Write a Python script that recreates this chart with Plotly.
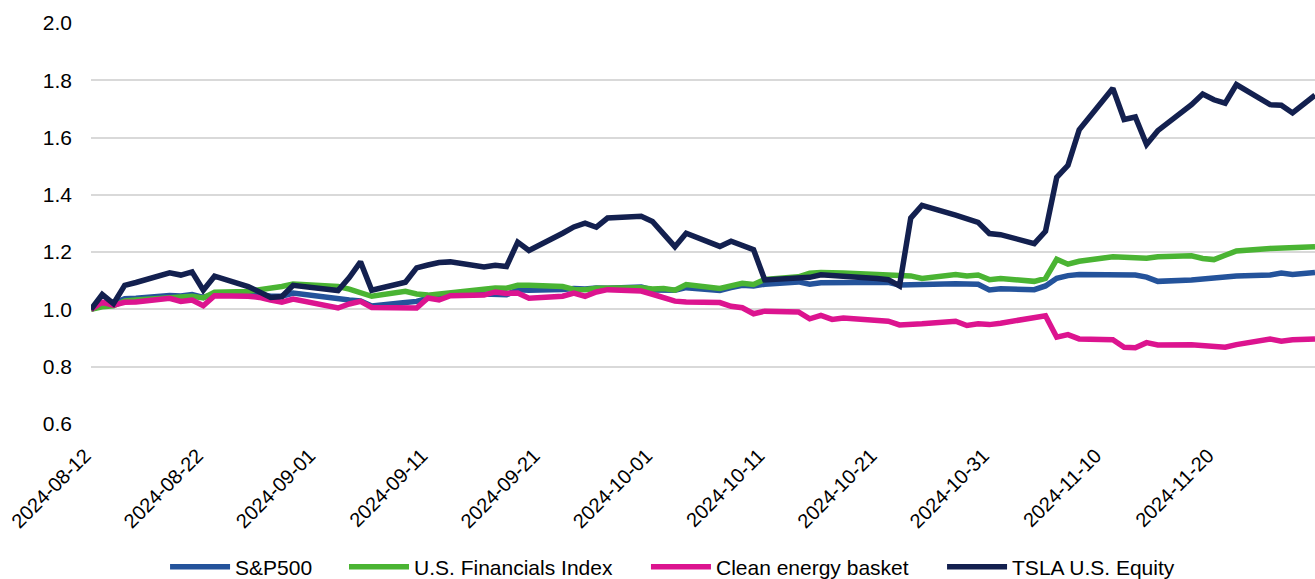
import plotly.graph_objects as go

dates = [
    "2024-08-12", "2024-08-13", "2024-08-14", "2024-08-15", "2024-08-16",
    "2024-08-19", "2024-08-20", "2024-08-21", "2024-08-22", "2024-08-23",
    "2024-08-26", "2024-08-27", "2024-08-28", "2024-08-29", "2024-08-30",
    "2024-09-03", "2024-09-04", "2024-09-05", "2024-09-06",
    "2024-09-09", "2024-09-10", "2024-09-11", "2024-09-12", "2024-09-13",
    "2024-09-16", "2024-09-17", "2024-09-18", "2024-09-19", "2024-09-20",
    "2024-09-23", "2024-09-24", "2024-09-25", "2024-09-26", "2024-09-27",
    "2024-09-30", "2024-10-01", "2024-10-02", "2024-10-03", "2024-10-04",
    "2024-10-07", "2024-10-08", "2024-10-09", "2024-10-10", "2024-10-11",
    "2024-10-14", "2024-10-15", "2024-10-16", "2024-10-17", "2024-10-18",
    "2024-10-21", "2024-10-22", "2024-10-23", "2024-10-24", "2024-10-25",
    "2024-10-28", "2024-10-29", "2024-10-30", "2024-10-31", "2024-11-01",
    "2024-11-04", "2024-11-05", "2024-11-06", "2024-11-07", "2024-11-08",
    "2024-11-11", "2024-11-12", "2024-11-13", "2024-11-14", "2024-11-15",
    "2024-11-18", "2024-11-19", "2024-11-20", "2024-11-21", "2024-11-22",
    "2024-11-25", "2024-11-26", "2024-11-27", "2024-11-29",
]

sp500 = [
    1.000, 1.017, 1.021, 1.037, 1.039,
    1.049, 1.047, 1.052, 1.042, 1.054,
    1.051, 1.053, 1.046, 1.046, 1.057,
    1.035, 1.033, 1.030, 1.012,
    1.024, 1.028, 1.039, 1.047, 1.053,
    1.054, 1.054, 1.051, 1.069, 1.067,
    1.070, 1.073, 1.071, 1.075, 1.074,
    1.078, 1.068, 1.068, 1.067, 1.076,
    1.066, 1.076, 1.084, 1.082, 1.088,
    1.096, 1.088, 1.093, 1.093, 1.097,
    1.095, 1.095, 1.085, 1.087, 1.087,
    1.090, 1.091, 1.088, 1.068, 1.072,
    1.069, 1.082, 1.109, 1.118, 1.122,
    1.123, 1.120, 1.120, 1.113, 1.098,
    1.103, 1.107, 1.107, 1.113, 1.117,
    1.120, 1.127, 1.122, 1.129,
]

financials = [
    1.000, 1.009, 1.013, 1.030, 1.033,
    1.042, 1.042, 1.046, 1.040, 1.060,
    1.063, 1.068, 1.075, 1.080, 1.089,
    1.080, 1.071, 1.060, 1.046,
    1.063, 1.054, 1.050, 1.054, 1.058,
    1.068, 1.075, 1.074, 1.084, 1.084,
    1.080, 1.070, 1.069, 1.074, 1.075,
    1.076, 1.071, 1.073, 1.067, 1.087,
    1.073, 1.081, 1.091, 1.087, 1.105,
    1.114, 1.126, 1.129, 1.129, 1.127,
    1.122, 1.119, 1.117, 1.117, 1.108,
    1.122, 1.117, 1.120, 1.104, 1.108,
    1.098, 1.108, 1.175, 1.158, 1.168,
    1.184, 1.182, 1.182, 1.179, 1.184,
    1.187, 1.178, 1.174, 1.189, 1.204,
    1.213, 1.215, 1.216, 1.219,
]

clean_energy = [
    1.000, 1.025, 1.015, 1.025, 1.026,
    1.039, 1.028, 1.033, 1.013, 1.048,
    1.046, 1.042, 1.033, 1.025, 1.036,
    1.005, 1.019, 1.028, 1.007,
    1.006, 1.005, 1.040, 1.033, 1.048,
    1.050, 1.061, 1.056, 1.057, 1.039,
    1.046, 1.057, 1.046, 1.061, 1.069,
    1.064, 1.053, 1.040, 1.029, 1.026,
    1.024, 1.011, 1.006, 0.985, 0.994,
    0.991, 0.967, 0.979, 0.965, 0.970,
    0.964, 0.959, 0.946, 0.947, 0.950,
    0.959, 0.944, 0.950, 0.947, 0.952,
    0.975, 0.978, 0.903, 0.912, 0.897,
    0.894, 0.868, 0.866, 0.884, 0.876,
    0.877, 0.874, 0.871, 0.868, 0.877,
    0.897, 0.889, 0.894, 0.897,
]

tsla = [
    1.000, 1.052, 1.020, 1.084, 1.094,
    1.128, 1.120, 1.131, 1.067, 1.116,
    1.080, 1.059, 1.042, 1.045, 1.084,
    1.066, 1.111, 1.166, 1.067,
    1.095, 1.145, 1.155, 1.164, 1.166,
    1.148, 1.154, 1.150, 1.235, 1.206,
    1.266, 1.288, 1.301, 1.287, 1.319,
    1.325, 1.307, 1.261, 1.219, 1.266,
    1.220, 1.238, 1.221, 1.209, 1.103,
    1.110, 1.112, 1.121, 1.119, 1.118,
    1.108, 1.104, 1.082, 1.319, 1.363,
    1.329, 1.314, 1.304, 1.265, 1.261,
    1.230, 1.273, 1.461, 1.503, 1.627,
    1.772, 1.663, 1.672, 1.576, 1.624,
    1.715, 1.752, 1.732, 1.720, 1.785,
    1.715, 1.713, 1.686, 1.748,
]

series_names = ["S&P500", "U.S. Financials Index", "Clean energy basket", "TSLA U.S. Equity"]
series_values = [sp500, financials, clean_energy, tsla]
series_colors = ["#24539B", "#4AB433", "#DC148F", "#13204F"]
legend_ids = ["legend", "legend2", "legend3", "legend4"]
legend_x = [0.0605, 0.2067, 0.4534, 0.6953]

y_ticks = [0.6, 0.8, 1.0, 1.2, 1.4, 1.6, 1.8, 2.0]

fig = go.Figure()
for name, vals, col, lg in zip(series_names, series_values, series_colors, legend_ids):
    fig.add_trace(go.Scatter(
        x=dates, y=vals, name=name, mode="lines",
        line=dict(color=col, width=5.5), legend=lg,
    ))

font_family = "Liberation Sans, Arial, sans-serif"

legend_common = dict(
    orientation="h", xanchor="left", y=-0.3566, yanchor="middle",
    font=dict(size=21, color="#000000", family=font_family),
    itemwidth=60, bgcolor="rgba(0,0,0,0)",
)

layout_legends = {}
for lg, lx in zip(legend_ids, legend_x):
    layout_legends[lg] = dict(legend_common, x=lx)

fig.update_layout(
    width=1315, height=579,
    margin=dict(l=91, r=0, t=23, b=155, autoexpand=False),
    paper_bgcolor="white", plot_bgcolor="white",
    font=dict(family=font_family, size=19, color="#000000"),
    showlegend=True,
    xaxis=dict(
        type="date",
        range=["2024-08-12", "2024-11-29"],
        tick0="2024-08-12", dtick=10 * 24 * 3600 * 1000,
        tickformat="%Y-%m-%d", tickangle=-45,
        showgrid=False, zeroline=False, showline=False,
        ticks="", ticklabelstandoff=15, ticklabelshift=-6,
        ticklabeloverflow="allow", automargin=False,
        tickfont=dict(size=20),
    ),
    yaxis=dict(
        range=[0.6, 2.0], tickvals=y_ticks, tickformat=".1f",
        showgrid=True, gridcolor="#D9D9D9", gridwidth=2,
        zeroline=False, showline=False, automargin=False,
        ticks="", ticklabelstandoff=18,
        tickfont=dict(size=21),
    ),
    **layout_legends,
)

fig.write_html(
    "out.html",
    config={"displayModeBar": False},
    post_script="document.body.style.margin='0';document.body.style.overflow='hidden';",
)
